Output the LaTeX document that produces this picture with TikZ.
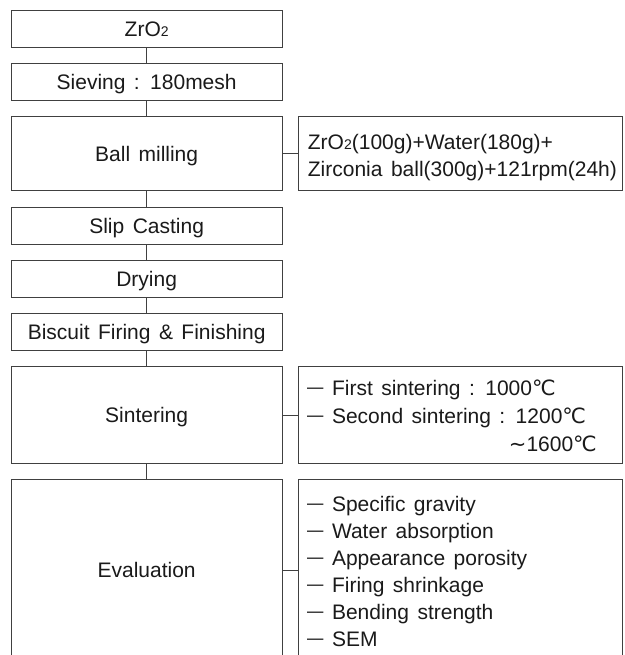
\documentclass[tikz,border=0pt]{standalone}
\usepackage{fontspec}
\usepackage{graphicx}
\setmainfont{Liberation Sans}[WordSpace=1.45]
\newfontfamily\symf{DejaVu Sans}
\newcommand{\degC}{{\symf ℃}}
\newcommand{\wave}{{\symf ∼}}
\newcommand{\sdash}{\raisebox{2pt}{\scalebox{1.4}[0.9]{–}}}
\newcommand{\smalltwo}{{\fontsize{14}{14}\selectfont 2}}
\definecolor{boxline}{HTML}{404040}
\definecolor{txt}{HTML}{1A1A1A}
\begin{document}
\begin{tikzpicture}[x=1pt,y=-1pt,
  every node/.style={font=\fontsize{21}{27}\selectfont, inner sep=0pt, text=txt},
  box/.style={draw=boxline, line width=1pt, rectangle, text height=15pt, text depth=0pt},
  lbox/.style={box, minimum width=271.3pt},
  rbox/.style={box, minimum width=323.7pt},
  link/.style={draw=boxline, line width=1pt},
  item/.style={anchor=base west}]
\useasboundingbox (0,0) rectangle (624,655);
\clip (0,0) rectangle (624,655);
\fill[white] (0,0) rectangle (624,655);

% left column
\node[lbox, minimum height=36.7pt] (zro)   at (146.65, 29.35) {ZrO\smalltwo};
\node[lbox, minimum height=36.7pt] (sieve) at (146.65, 82.35) {Sieving : 180mesh};
\node[lbox, minimum height=74pt]   (ball)  at (146.65, 153.7) {Ball milling};
\node[lbox, minimum height=37pt]   (slip)  at (146.65, 225.8) {Slip Casting};
\node[lbox, minimum height=36.6pt] (dry)   at (146.65, 279)   {Drying};
\node[lbox, minimum height=37pt]   (bisc)  at (146.65, 331.5) {Biscuit Firing \& Finishing};
\node[lbox, minimum height=96.6pt] (sint)  at (146.65, 415)   {Sintering};
\node[lbox, minimum height=181.4pt] (eval) at (146.65, 570)   {Evaluation};

% right column
\node[rbox, minimum height=74pt]    (ballr) at (460.15, 153.7) {};
\node[rbox, minimum height=96.6pt]  (sintr) at (460.15, 415)   {};
\node[rbox, minimum height=181.4pt] (evalr) at (460.15, 570)   {};

% texts of right boxes
\node[item] (b1) at (307.7, 149.3) {ZrO\smalltwo(100g)+Water(180g)+};
\node[item] (b2) at (307.7, 176)   {Zirconia ball(300g)+121rpm(24h)};

\node[item] (s1) at (307, 395)   {\sdash\ First sintering : 1000\degC};
\node[item] (s2) at (307, 423.3) {\sdash\ Second sintering : 1200\degC};
\node[anchor=base east] (s3) at (597, 451) {\wave1600\degC};

\node[item] (e1) at (307, 511) {\sdash\ Specific gravity};
\node[item] (e2) at (307, 538) {\sdash\ Water absorption};
\node[item] (e3) at (307, 565) {\sdash\ Appearance porosity};
\node[item] (e4) at (307, 592) {\sdash\ Firing shrinkage};
\node[item] (e5) at (307, 619) {\sdash\ Bending strength};
\node[item] (e6) at (307, 646) {\sdash\ SEM};

% connectors
\draw[link] (zro.south) -- (sieve.north);
\draw[link] (sieve.south) -- (ball.north);
\draw[link] (ball.south) -- (slip.north);
\draw[link] (slip.south) -- (dry.north);
\draw[link] (dry.south) -- (bisc.north);
\draw[link] (bisc.south) -- (sint.north);
\draw[link] (sint.south) -- (eval.north);
\draw[link] (ball.east) -- (ballr.west);
\draw[link] (sint.east) -- (sintr.west);
\draw[link] (eval.east) -- (evalr.west);
\end{tikzpicture}
\end{document}
